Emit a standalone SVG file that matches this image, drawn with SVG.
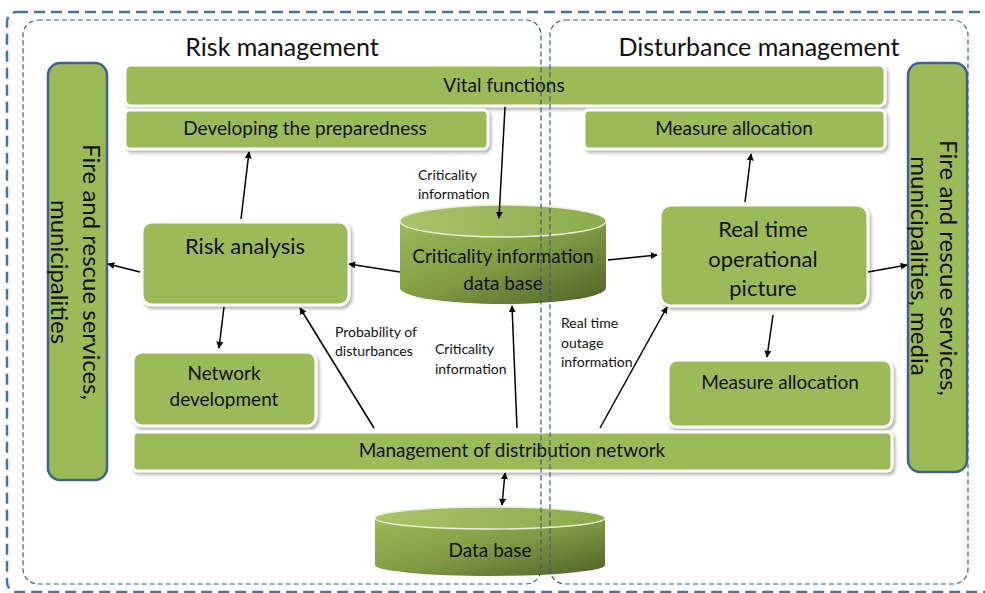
<svg xmlns="http://www.w3.org/2000/svg" width="985" height="593" viewBox="0 0 985 593">
<style>
.box{fill:#9bbb59;stroke:#ffffff;stroke-width:3;filter:url(#sh)}
.side{fill:#9bbb59;stroke:#3e6390;stroke-width:2.5}
.t{font-family:Lato,"Liberation Sans",sans-serif;fill:#111;text-anchor:middle}
.s{font-family:Lato,"Liberation Sans",sans-serif;fill:#111;font-size:14px}
.big{font-size:24px}
.mid{font-size:19px}
.lg{font-size:22px}
.ttl{font-size:25px}
.c{fill:none;stroke:#000;stroke-width:1.5;marker-end:url(#ah)}
.outer{fill:none;stroke:#4a74a0;stroke-width:2.5;stroke-dasharray:11 6}
.inner{fill:none;stroke:#3b5b85;stroke-width:1.2;stroke-dasharray:5 3}
</style>
<defs>
<filter id="sh" x="-10%" y="-20%" width="120%" height="150%">
<feDropShadow dx="2" dy="2.5" stdDeviation="1.5" flood-color="#777" flood-opacity="0.55"/>
</filter>
<marker id="ah" viewBox="0 0 10 10" refX="9" refY="5" markerWidth="7" markerHeight="7" orient="auto-start-reverse" markerUnits="userSpaceOnUse">
<path d="M0,0 L10,5 L0,10 z" fill="#000"/>
</marker>
<linearGradient id="cyl" x1="0" y1="0" x2="1" y2="1">
<stop offset="0" stop-color="#9bbb59"/>
<stop offset="0.5" stop-color="#7f9c43"/>
<stop offset="1" stop-color="#4f6228"/>
</linearGradient>
<linearGradient id="cyltop" x1="0" y1="0" x2="1" y2="0">
<stop offset="0" stop-color="#a9c46a"/>
<stop offset="1" stop-color="#8aab4c"/>
</linearGradient>
</defs>

<g id="fire-left">
<rect class="side" x="48" y="63" width="59" height="417" rx="12"/>
<text class="t big" transform="translate(91,272) rotate(90)" dy="0.35em">Fire and rescue services,</text>
<text class="t big" transform="translate(59,272) rotate(90)" dy="0.35em">municipalities</text>
</g>
<g id="fire-right">
<rect class="side" x="908" y="63" width="59" height="409" rx="12"/>
<text class="t big" transform="translate(948,268) rotate(90)" dy="0.35em">Fire and rescue services,</text>
<text class="t big" transform="translate(919,266) rotate(90)" dy="0.35em">municipalities, media</text>
</g>

<g id="title-risk"><text class="t ttl" x="282" y="56">Risk management</text></g>
<g id="title-dist"><text class="t ttl" x="759" y="56">Disturbance management</text></g>

<g id="vital">
<rect class="box" x="125" y="65" width="760" height="41" rx="6"/>
<text class="t mid" x="504" y="92">Vital functions</text>
</g>
<g id="preparedness">
<rect class="box" x="125" y="110" width="363" height="39" rx="5"/>
<text class="t mid" x="305" y="135">Developing the preparedness</text>
</g>
<g id="measure-top">
<rect class="box" x="584" y="110" width="301" height="39" rx="5"/>
<text class="t mid" x="734" y="135">Measure allocation</text>
</g>
<g id="risk-analysis">
<rect class="box" x="142" y="222" width="207" height="83" rx="10"/>
<text class="t lg" x="245" y="254">Risk analysis</text>
</g>
<g id="network-dev">
<rect class="box" x="133" y="352" width="183" height="74" rx="9"/>
<text class="t mid" x="224" y="380">Network</text>
<text class="t mid" x="224" y="406">development</text>
</g>
<g id="real-time">
<rect class="box" x="660" y="205" width="208" height="101" rx="11"/>
<text class="t lg" x="763" y="237">Real time</text>
<text class="t lg" x="763" y="267">operational</text>
<text class="t lg" x="763" y="296">picture</text>
</g>
<g id="measure-bottom">
<rect class="box" x="668" y="360" width="224" height="67" rx="9"/>
<text class="t mid" x="780" y="389">Measure allocation</text>
</g>
<g id="management">
<rect class="box" x="133" y="432" width="759" height="39" rx="5"/>
<text class="t mid" x="512" y="457">Management of distribution network</text>
</g>
<g id="crit-db">
<path d="M400,221 L400,288 A103,16 0 0 0 606,288 L606,221 Z" fill="url(#cyl)"/>
<ellipse cx="503" cy="221" rx="103" ry="16" fill="url(#cyltop)" stroke="#e8f0d8" stroke-width="1.5"/>
<text class="t mid" x="503" y="263">Criticality information</text>
<text class="t mid" x="503" y="290">data base</text>
</g>
<g id="data-base">
<path d="M375,518 L375,565 A115,11 0 0 0 605,565 L605,518 Z" fill="url(#cyl)"/>
<ellipse cx="490" cy="518" rx="115" ry="11" fill="url(#cyltop)" stroke="#e8f0d8" stroke-width="1.5"/>
<text class="t mid" x="490" y="557">Data base</text>
</g>

<g id="connectors">
<line class="c" x1="241" y1="219" x2="249" y2="152"/>
<line class="c" x1="140" y1="272" x2="108" y2="264"/>
<line class="c" x1="400" y1="272" x2="349" y2="264"/>
<line class="c" x1="224" y1="307" x2="219" y2="348"/>
<line class="c" x1="374" y1="428" x2="300" y2="308"/>
<line class="c" x1="505" y1="107" x2="499" y2="218"/>
<line class="c" x1="608" y1="260" x2="657" y2="255"/>
<line class="c" x1="517" y1="428" x2="512" y2="306"/>
<line class="c" x1="600" y1="428" x2="667" y2="307"/>
<line class="c" x1="745" y1="202" x2="751" y2="154"/>
<line class="c" x1="773" y1="315" x2="767" y2="357"/>
<line class="c" x1="868" y1="272" x2="907" y2="265"/>
<line class="c" x1="505" y1="473" x2="502" y2="505" style="marker-start:url(#ah)"/>
</g>

<g id="labels">
<text class="s" x="418" y="180">Criticality</text>
<text class="s" x="418" y="199">information</text>
<text class="s" x="335" y="337">Probability of</text>
<text class="s" x="335" y="356">disturbances</text>
<text class="s" x="435" y="354">Criticality</text>
<text class="s" x="435" y="374">information</text>
<text class="s" x="561" y="328">Real time</text>
<text class="s" x="561" y="348">outage</text>
<text class="s" x="561" y="367">information</text>
</g>

<g id="containers">
<rect class="outer" x="7" y="12" width="995" height="580" rx="10"/>
<rect class="inner" x="23" y="20" width="518" height="564" rx="15"/>
<rect class="inner" x="550" y="20" width="418" height="564" rx="15"/>
</g>
</svg>
